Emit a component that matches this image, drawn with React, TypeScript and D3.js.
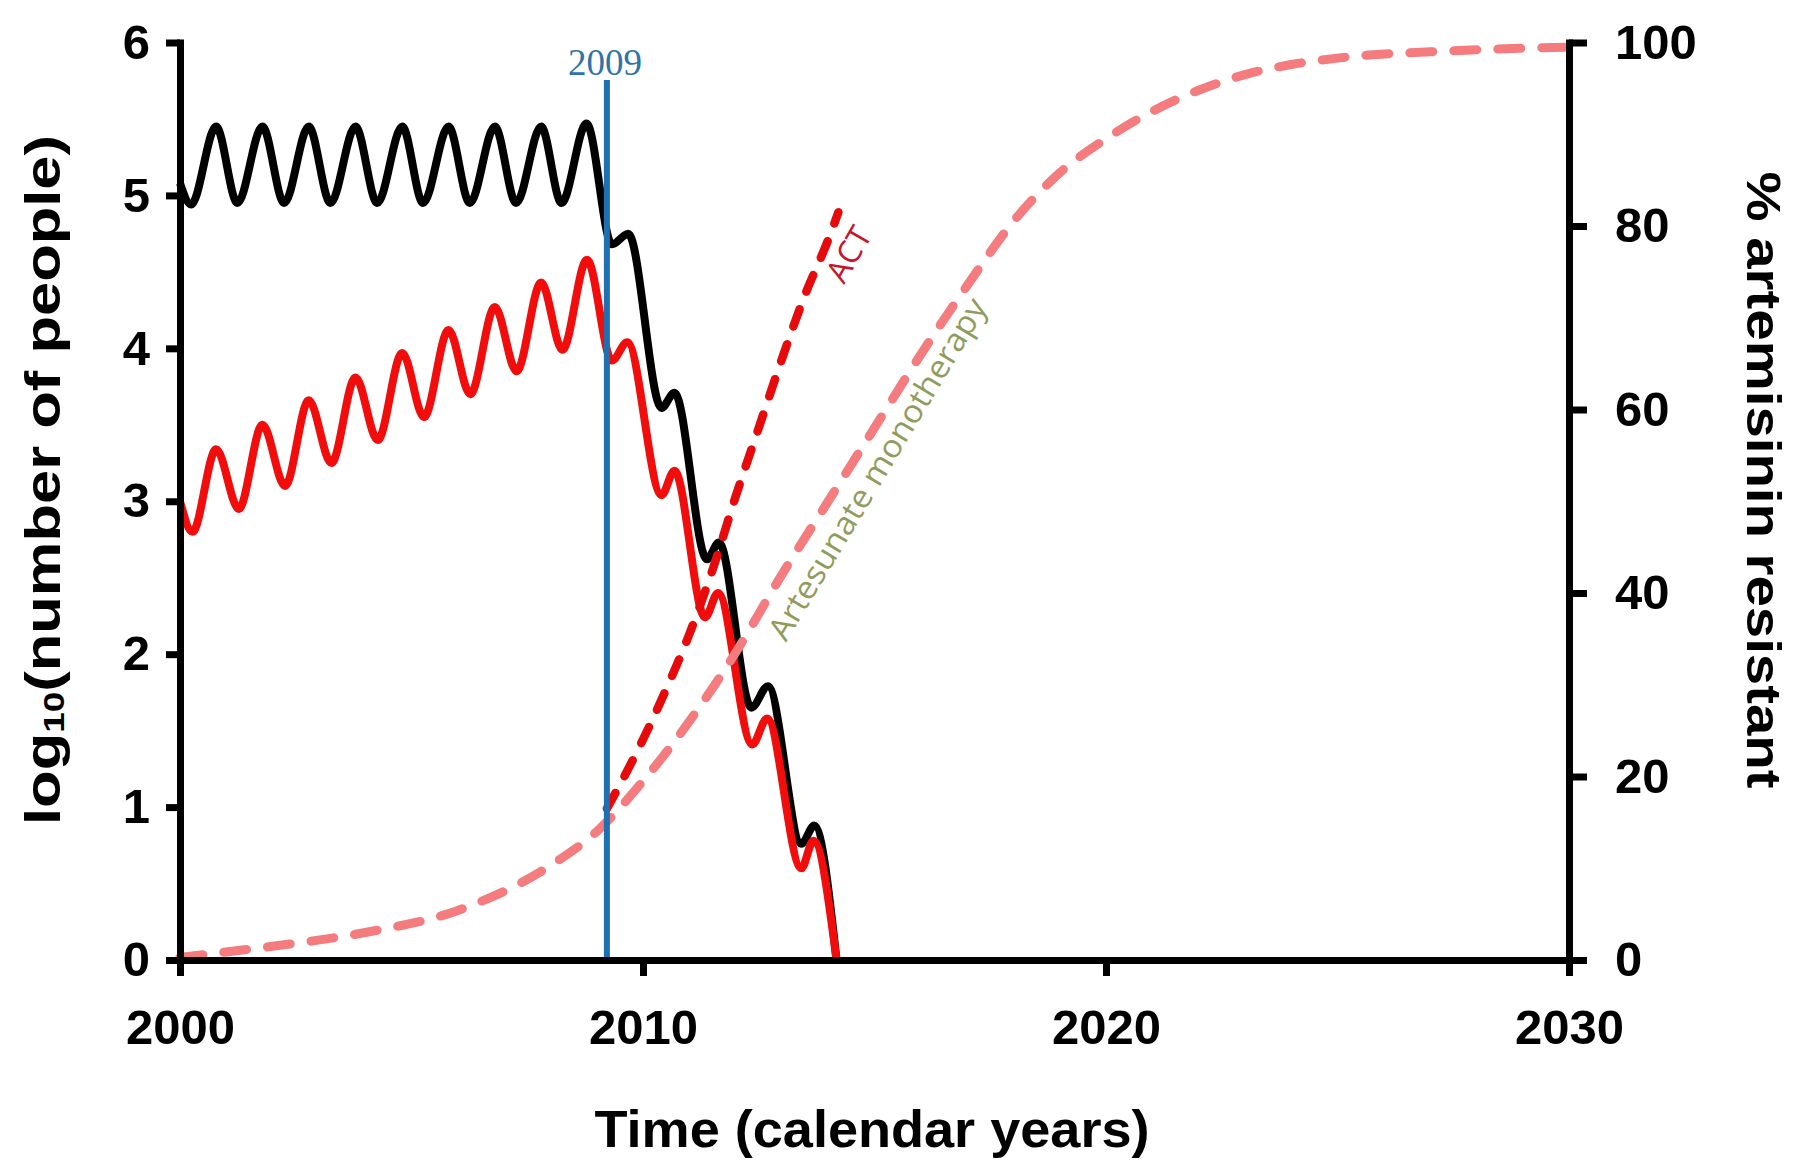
import React, { useEffect, useRef } from 'react'
import * as d3 from 'd3'

// black curve: all infections, log10 scale (left axis)
const totalYear = [2000, 2000.24, 2000.78, 2001.24, 2001.78, 2002.25, 2002.78, 2003.25, 2003.79, 2004.26, 2004.8,
  2005.25, 2005.8, 2006.26, 2006.8, 2007.26, 2007.8, 2008.24, 2008.78, 2009.33, 2009.68, 2010.4, 2010.68,
  2011.38, 2011.64, 2012.34, 2012.7, 2013.42, 2013.7, 2014.18]
const totalLog10 = [5.08, 4.94, 5.45, 4.95, 5.45, 4.95, 5.45, 4.95, 5.45, 4.95, 5.45,
  4.95, 5.45, 4.95, 5.45, 4.95, 5.45, 4.95, 5.47, 4.68, 4.75, 3.61, 3.71,
  2.62, 2.73, 1.65, 1.79, 0.76, 0.88, 0]

// red curve: resistant infections, log10 scale (left axis)
const resistantYear = [2000, 2000.27, 2000.78, 2001.27, 2001.78, 2002.27, 2002.78, 2003.27, 2003.79, 2004.27, 2004.8,
  2005.27, 2005.8, 2006.27, 2006.8, 2007.27, 2007.8, 2008.26, 2008.79, 2009.33, 2009.66, 2010.4, 2010.68,
  2011.34, 2011.62, 2012.36, 2012.68, 2013.42, 2013.68, 2014.18]
const resistantLog10 = [3.0, 2.8, 3.34, 2.95, 3.5, 3.1, 3.66, 3.25, 3.81, 3.4, 3.97,
  3.55, 4.12, 3.7, 4.27, 3.85, 4.43, 3.99, 4.58, 3.92, 4.04, 3.04, 3.2,
  2.24, 2.4, 1.41, 1.58, 0.6, 0.78, 0]

// dashed curves: % artemisinin resistant (right axis)
const actYear = [2009.22, 2009.9, 2010.5, 2011, 2011.5, 2012, 2012.5, 2013, 2013.5, 2014, 2014.22]
const actPct = [16.5, 23, 29.5, 35.5, 42.5, 50.5, 58, 65.5, 72.5, 78.5, 81.5]

const monoYear = [2000, 2002, 2004, 2006, 2008, 2009, 2010, 2011, 2012, 2013, 2014, 2015, 2016, 2017, 2018,
  2019, 2020, 2021, 2022, 2023, 2024, 2025, 2027.5, 2030]
const monoPct = [0.3, 1.5, 3.0, 5.4, 10.3, 14, 19.5, 26, 33.5, 42, 50, 58, 66, 73.5, 80.5,
  85.8, 89.5, 92.5, 94.8, 96.5, 97.6, 98.3, 99.1, 99.5]

const xTicks = [2000, 2010, 2020, 2030]
const leftTicks = [0, 1, 2, 3, 4, 5, 6]
const rightTicks = [0, 20, 40, 60, 80, 100]
const markerYear = 2009.22
const markerLabel = '2009'

const W = 1793
const H = 1160
const bold = '"Liberation Sans", Arial, sans-serif'

export default function App () {
  const ref = useRef<SVGSVGElement>(null)

  useEffect(() => {
    const svg = d3.select(ref.current)
    svg.selectAll('*').remove()

    const x = d3.scaleLinear().domain([2000, 2030]).range([180, 1569])
    const yL = d3.scaleLinear().domain([0, 6]).range([960, 42.5])
    const yR = d3.scaleLinear().domain([0, 100]).range([960, 42.5])

    const zip = (xs: number[], ys: number[]) => xs.map((v, i) => [v, ys[i]] as [number, number])
    const lineL = d3.line<[number, number]>().x(d => x(d[0])).y(d => yL(d[1])).curve(d3.curveMonotoneX)
    const lineR = d3.line<[number, number]>().x(d => x(d[0])).y(d => yR(d[1])).curve(d3.curveMonotoneX)

    // solid curves
    svg.append('path')
      .attr('d', lineL(zip(totalYear, totalLog10)))
      .attr('fill', 'none').attr('stroke', '#000').attr('stroke-width', 8)
      .attr('stroke-linejoin', 'round')
    svg.append('path')
      .attr('d', lineL(zip(resistantYear, resistantLog10)))
      .attr('fill', 'none').attr('stroke', '#f20d0d').attr('stroke-width', 8)
      .attr('stroke-linejoin', 'round')

    // dashed curves
    svg.append('path')
      .attr('d', lineR(zip(actYear, actPct)))
      .attr('fill', 'none').attr('stroke', '#e60a0a').attr('stroke-width', 8.5)
      .attr('stroke-dasharray', '18 19').attr('stroke-linecap', 'round')
    svg.append('path')
      .attr('d', lineR(zip(monoYear, monoPct)))
      .attr('fill', 'none').attr('stroke', '#f47c7f').attr('stroke-width', 9)
      .attr('stroke-dasharray', '23 21').attr('stroke-linecap', 'round')

    // 2009 marker
    svg.append('line')
      .attr('x1', x(markerYear)).attr('x2', x(markerYear))
      .attr('y1', 80).attr('y2', yL(0))
      .attr('stroke', '#1f70b0').attr('stroke-width', 6)
    svg.append('text')
      .attr('x', x(markerYear) - 2).attr('y', 75)
      .attr('text-anchor', 'middle')
      .style('font-family', '"Liberation Serif", "DejaVu Serif", serif')
      .style('font-size', '37px').style('fill', '#2f74a8')
      .text(markerLabel)

    // curve labels
    svg.append('text')
      .attr('transform', `translate(${x(2014.42)},${yR(77)}) rotate(-60)`)
      .attr('text-anchor', 'middle').attr('dominant-baseline', 'central')
      .style('font-family', '"Open Sans", sans-serif').style('font-size', '32px')
      .style('fill', '#c8142c')
      .text('ACT')
    svg.append('text')
      .attr('transform', `translate(${x(2015.27)},${yR(52.9)}) rotate(-59)`)
      .attr('text-anchor', 'middle')
      .attr('textLength', 392).attr('lengthAdjust', 'spacingAndGlyphs')
      .style('font-family', '"Open Sans", sans-serif').style('font-size', '32px')
      .style('fill', '#8f9c5c')
      .text('Artesunate monotherapy')

    // axes
    const styleAxis = (g: any) => {
      g.select('.domain').attr('stroke-width', 7).attr('stroke-linecap', 'square')
      g.selectAll('.tick line').attr('stroke-width', 7)
      g.selectAll('.tick text')
        .style('font-family', bold).style('font-weight', 'bold').style('font-size', '49px')
        .attr('fill', '#000')
    }

    svg.append('g')
      .attr('transform', `translate(0,${yL(0)})`)
      .call(d3.axisBottom(x).tickValues(xTicks).tickFormat(d3.format('d'))
        .tickSize(16).tickSizeOuter(0).tickPadding(33))
      .call(styleAxis)

    svg.append('g')
      .attr('transform', `translate(${x(2000)},0)`)
      .call(d3.axisLeft(yL).tickValues(leftTicks).tickFormat(d3.format('d'))
        .tickSize(14).tickSizeOuter(0).tickPadding(16))
      .call(styleAxis)

    svg.append('g')
      .attr('transform', `translate(${x(2030)},0)`)
      .call(d3.axisRight(yR).tickValues(rightTicks).tickFormat(d3.format('d'))
        .tickSize(18).tickSizeOuter(0).tickPadding(28))
      .call(styleAxis)

    // axis titles
    svg.append('text')
      .attr('x', 872).attr('y', 1147)
      .attr('text-anchor', 'middle')
      .attr('textLength', 555).attr('lengthAdjust', 'spacingAndGlyphs')
      .style('font-family', bold).style('font-weight', 'bold').style('font-size', '52px')
      .text('Time (calendar years)')

    const lt = svg.append('text')
      .attr('transform', 'translate(43,480) rotate(-90)')
      .attr('text-anchor', 'middle').attr('dominant-baseline', 'central')
      .attr('textLength', 690).attr('lengthAdjust', 'spacingAndGlyphs')
      .style('font-family', bold).style('font-weight', 'bold').style('font-size', '50px')
    lt.append('tspan').text('log')
    lt.append('tspan').attr('dy', 10).style('font-size', '30px').text('10')
    lt.append('tspan').attr('dy', -10).text('(number of people)')

    svg.append('text')
      .attr('transform', 'translate(1763,480) rotate(90)')
      .attr('text-anchor', 'middle').attr('dominant-baseline', 'central')
      .attr('textLength', 617).attr('lengthAdjust', 'spacingAndGlyphs')
      .style('font-family', bold).style('font-weight', 'bold').style('font-size', '48px')
      .text('% artemisinin resistant')
  }, [])

  return (
    <svg ref={ref} width={W} height={H}
      style={{ position: 'absolute', left: 0, top: 0, background: '#fff' }} />
  )
}
